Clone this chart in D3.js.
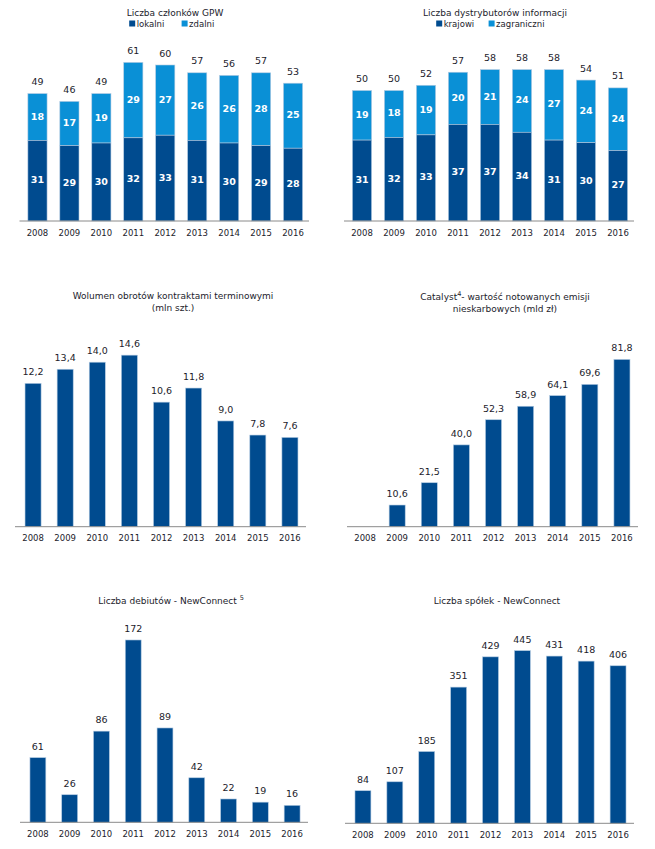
<!DOCTYPE html>
<html>
<head>
<meta charset="utf-8">
<script src="https://cdn.jsdelivr.net/npm/d3@7"></script>
<style>
  body { margin: 0; background: #fff; }
  text { font-family: "DejaVu Sans", Verdana, sans-serif; fill: #1c1c2c; }
</style>
</head>
<body>
<svg id="container" width="655" height="849"></svg>
<script>
const years = ['2008', '2009', '2010', '2011', '2012', '2013', '2014', '2015', '2016'];

// Liczba członków GPW
const membersLocal = [31, 29, 30, 32, 33, 31, 30, 29, 28];
const membersRemote = [18, 17, 19, 29, 27, 26, 26, 28, 25];
// Liczba dystrybutorów informacji
const distDomestic = [31, 32, 33, 37, 37, 34, 31, 30, 27];
const distForeign = [19, 18, 19, 20, 21, 24, 27, 24, 24];
// Wolumen obrotów kontraktami terminowymi (mln szt.)
const futuresVolume = [12.2, 13.4, 14.0, 14.6, 10.6, 11.8, 9.0, 7.8, 7.6];
// Catalyst - wartość emisji nieskarbowych (mld zł)
const catalystValue = [null, 10.6, 21.5, 40.0, 52.3, 58.9, 64.1, 69.6, 81.8];
// Liczba debiutów - NewConnect
const ncDebuts = [61, 26, 86, 172, 89, 42, 22, 19, 16];
// Liczba spółek - NewConnect
const ncCompanies = [84, 107, 185, 351, 429, 445, 431, 418, 406];

const dark = '#004b8f';
const light = '#0a90d6';
const edge = '#b3cbe2';

const svg = d3.select('#container');
const fmtComma = v => d3.format('.1f')(v).replace('.', ',');

function drawAxis(g, x, axisY) {
  g.append('line')
    .attr('x1', x.range()[0] - 2).attr('x2', x.range()[1])
    .attr('y1', axisY).attr('y2', axisY)
    .attr('stroke', '#8a8a8a').attr('stroke-width', 1);

  g.selectAll('.year')
    .data(years)
    .enter()
    .append('text')
    .attr('x', d => x(d) + x.bandwidth() / 2)
    .attr('y', axisY + 14.5)
    .attr('text-anchor', 'middle')
    .style('font-size', '8.5px')
    .text(d => d);
}

function drawTitle(g, cx, lines, y0, sup) {
  lines.forEach((line, i) => {
    const t = g.append('text')
      .attr('x', cx)
      .attr('y', y0 + i * 12)
      .attr('text-anchor', 'middle')
      .style('font-size', '9px')
      .text(line);
    if (sup && i === sup.line) {
      t.text(null);
      t.append('tspan').text(sup.before);
      t.append('tspan').attr('dy', -4).style('font-size', '6.5px').text(sup.mark);
      t.append('tspan').attr('dy', 4).text(sup.after);
    }
  });
}

function drawLegend(g, cx, y, items) {
  const widths = items.map(it => 8 + it.label.length * 5.2);
  const total = d3.sum(widths) + 8 * (items.length - 1);
  let x0 = cx - total / 2;
  items.forEach((it, i) => {
    g.append('rect')
      .attr('x', x0).attr('y', y - 6)
      .attr('width', 6).attr('height', 6)
      .attr('fill', it.color);
    g.append('text')
      .attr('x', x0 + 7.5).attr('y', y)
      .style('font-size', '8.5px')
      .text(it.label);
    x0 += widths[i] + 8;
  });
}

function stackedPanel(opts) {
  const g = svg.append('g');
  const x = d3.scaleBand().domain(years).range(opts.xRange).paddingInner(0.4).paddingOuter(0.2);
  const y = d3.scaleLinear().domain([0, 70]).range([opts.axisY, opts.axisY - 70 * opts.k]);

  const rows = years.map((yr, i) => ({ year: yr, a: opts.a[i], b: opts.b[i] }));

  g.selectAll('.seg-b')
    .data(rows)
    .enter()
    .append('rect')
    .attr('x', d => x(d.year))
    .attr('y', d => y(d.a + d.b))
    .attr('width', x.bandwidth())
    .attr('height', d => y(d.a) - y(d.a + d.b))
    .attr('fill', light)
    .attr('stroke', edge).attr('stroke-width', 0.6);

  g.selectAll('.seg-a')
    .data(rows)
    .enter()
    .append('rect')
    .attr('x', d => x(d.year))
    .attr('y', d => y(d.a))
    .attr('width', x.bandwidth())
    .attr('height', d => y(0) - y(d.a))
    .attr('fill', dark)
    .attr('stroke', edge).attr('stroke-width', 0.6);

  const inner = [
    ...rows.map(d => ({ year: d.year, v: d.a, mid: (y(0) + y(d.a)) / 2 })),
    ...rows.map(d => ({ year: d.year, v: d.b, mid: (y(d.a) + y(d.a + d.b)) / 2 })),
  ];
  g.selectAll('.inner')
    .data(inner)
    .enter()
    .append('text')
    .attr('x', d => x(d.year) + x.bandwidth() / 2)
    .attr('y', d => d.mid)
    .attr('text-anchor', 'middle')
    .attr('dominant-baseline', 'middle')
    .style('font-size', '9.5px')
    .style('font-weight', 'bold')
    .style('fill', '#fff')
    .text(d => d.v);

  g.selectAll('.total')
    .data(rows)
    .enter()
    .append('text')
    .attr('x', d => x(d.year) + x.bandwidth() / 2)
    .attr('y', d => y(d.a + d.b) - 8.5)
    .attr('text-anchor', 'middle')
    .style('font-size', '9.5px')
    .text(d => d.a + d.b);

  drawAxis(g, x, opts.axisY);
  drawTitle(g, opts.titleX, [opts.title], 16);
  drawLegend(g, opts.titleX, 26.5, opts.legend);
}

function barPanel(opts) {
  const g = svg.append('g');
  const x = d3.scaleBand().domain(years).range(opts.xRange).paddingInner(0.5).paddingOuter(0.25);
  const maxV = d3.max(opts.values);
  const y = d3.scaleLinear().domain([0, maxV]).range([opts.axisY, opts.axisY - maxV * opts.k]);

  const rows = years.map((yr, i) => ({ year: yr, v: opts.values[i] })).filter(d => d.v != null);

  g.selectAll('.bar')
    .data(rows)
    .enter()
    .append('rect')
    .attr('x', d => x(d.year))
    .attr('y', d => y(d.v))
    .attr('width', x.bandwidth())
    .attr('height', d => y(0) - y(d.v))
    .attr('fill', dark)
    .attr('stroke', edge).attr('stroke-width', 0.6);

  g.selectAll('.val')
    .data(rows)
    .enter()
    .append('text')
    .attr('x', d => x(d.year) + x.bandwidth() / 2)
    .attr('y', d => y(d.v) - 8)
    .attr('text-anchor', 'middle')
    .style('font-size', '9.5px')
    .text(d => opts.format(d.v));

  drawAxis(g, x, opts.axisY);
  drawTitle(g, opts.titleX, opts.title, opts.titleY, opts.sup);
}

stackedPanel({
  xRange: [21.5, 309], axisY: 221, k: 2.6,
  a: membersLocal, b: membersRemote,
  title: 'Liczba członków GPW', titleX: 175,
  legend: [{ label: 'lokalni', color: dark }, { label: 'zdalni', color: light }],
});

stackedPanel({
  xRange: [346, 634], axisY: 221, k: 2.61,
  a: distDomestic, b: distForeign,
  title: 'Liczba dystrybutorów informacji', titleX: 495,
  legend: [{ label: 'krajowi', color: dark }, { label: 'zagraniczni', color: light }],
});

barPanel({
  xRange: [17, 306], axisY: 526.7, k: 11.75,
  values: futuresVolume, format: fmtComma,
  title: ['Wolumen obrotów kontraktami terminowymi', '(mln szt.)'], titleX: 173, titleY: 299,
});

barPanel({
  xRange: [349, 638], axisY: 526.7, k: 2.045,
  values: catalystValue, format: fmtComma,
  title: ['Catalyst - wartość notowanych emisji', 'nieskarbowych (mld zł)'], titleX: 505, titleY: 300,
  sup: { line: 0, before: 'Catalyst', mark: '4', after: '- wartość notowanych emisji' },
});

barPanel({
  xRange: [22, 308], axisY: 822.3, k: 1.06,
  values: ncDebuts, format: d => d,
  title: ['Liczba debiutów - NewConnect '], titleX: 171, titleY: 603.5,
  sup: { line: 0, before: 'Liczba debiutów - NewConnect ', mark: '5', after: '' },
});

barPanel({
  xRange: [347, 634], axisY: 823.3, k: 0.388,
  values: ncCompanies, format: d => d,
  title: ['Liczba spółek - NewConnect'], titleX: 497, titleY: 603.5,
});
</script>
</body>
</html>
